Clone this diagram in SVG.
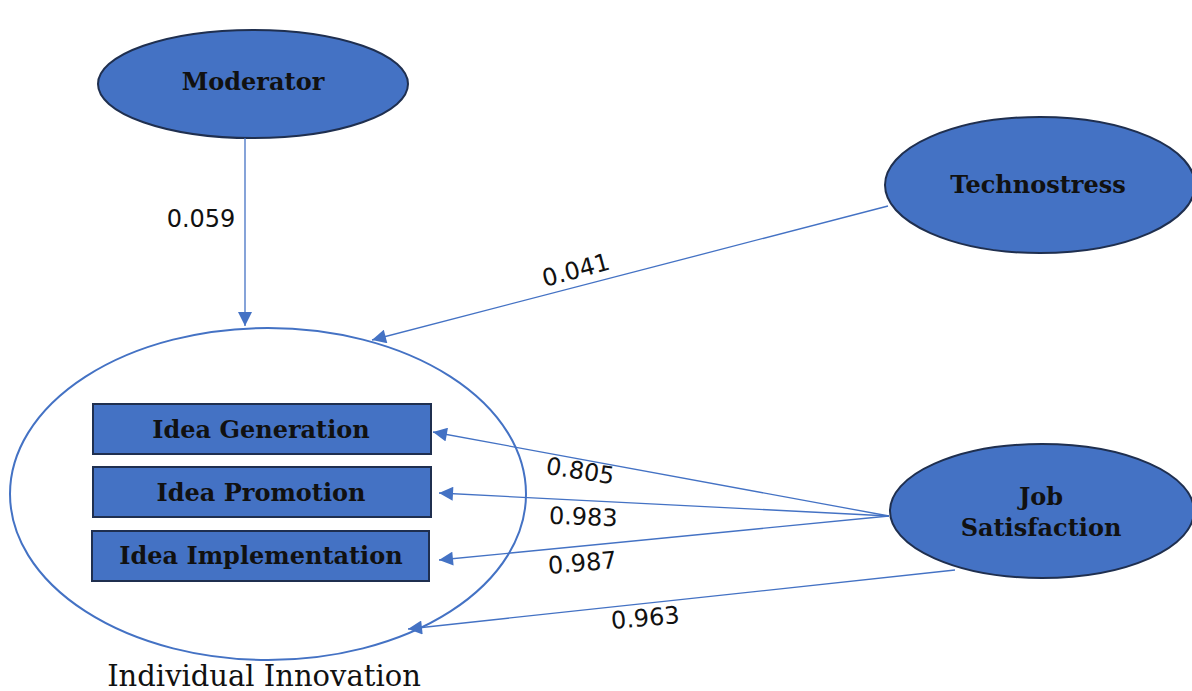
<svg xmlns="http://www.w3.org/2000/svg" width="1192" height="691" viewBox="0 0 1192 691">
<style>
.node{fill:#4472C4;stroke:#1F2F4F;stroke-width:2}
.lbl{font-family:"DejaVu Serif","Liberation Serif",serif;font-weight:bold;font-size:24px;fill:#111;text-anchor:middle}
.num{font-family:"DejaVu Sans","Liberation Sans",sans-serif;font-size:24px;fill:#111;text-anchor:middle}
.con{stroke:#4472C4;stroke-width:1.3;fill:none;marker-end:url(#ah)}
</style>
<defs>
<marker id="ah" viewBox="0 0 10 10" refX="10" refY="5" markerWidth="15" markerHeight="14" markerUnits="userSpaceOnUse" orient="auto">
<path d="M0,0 L10,5 L0,10 z" fill="#4472C4"/>
</marker>
</defs>
<g id="individual-innovation">
<ellipse cx="268" cy="494" rx="258" ry="166" fill="none" stroke="#4472C4" stroke-width="2"/>
<text class="lbl" x="264" y="686" style="font-weight:normal;font-size:29px">Individual Innovation</text>
</g>
<g id="moderator">
<ellipse class="node" cx="253" cy="84" rx="155" ry="54"/>
<text class="lbl" x="253" y="90">Moderator</text>
</g>
<g id="technostress">
<ellipse class="node" cx="1040" cy="185" rx="155" ry="68"/>
<text class="lbl" x="1038" y="193">Technostress</text>
</g>
<g id="job-satisfaction">
<ellipse class="node" cx="1042" cy="511" rx="152" ry="67"/>
<text class="lbl" x="1041" y="505">Job</text>
<text class="lbl" x="1041" y="536">Satisfaction</text>
</g>
<g id="idea-generation">
<rect class="node" x="93" y="404" width="338" height="50"/>
<text class="lbl" x="261" y="438">Idea Generation</text>
</g>
<g id="idea-promotion">
<rect class="node" x="93" y="467" width="338" height="50"/>
<text class="lbl" x="261" y="501">Idea Promotion</text>
</g>
<g id="idea-implementation">
<rect class="node" x="92" y="531" width="337" height="50"/>
<text class="lbl" x="261" y="564">Idea Implementation</text>
</g>
<g id="connectors">
<line class="con" x1="245" y1="138" x2="245" y2="326"/>
<line class="con" x1="888" y1="206" x2="372" y2="340"/>
<line class="con" x1="889" y1="516" x2="433" y2="432"/>
<line class="con" x1="889" y1="516" x2="439" y2="493"/>
<line class="con" x1="889" y1="516" x2="439" y2="560"/>
<line class="con" x1="955" y1="570" x2="408" y2="629"/>
<text class="num" x="201" y="227">0.059</text>
<text class="num" transform="translate(578,278) rotate(-15)">0.041</text>
<text class="num" transform="translate(579,479) rotate(9)">0.805</text>
<text class="num" transform="translate(583,525) rotate(2)">0.983</text>
<text class="num" transform="translate(583,571) rotate(-5)">0.987</text>
<text class="num" transform="translate(646,626) rotate(-5)">0.963</text>
</g>
</svg>
